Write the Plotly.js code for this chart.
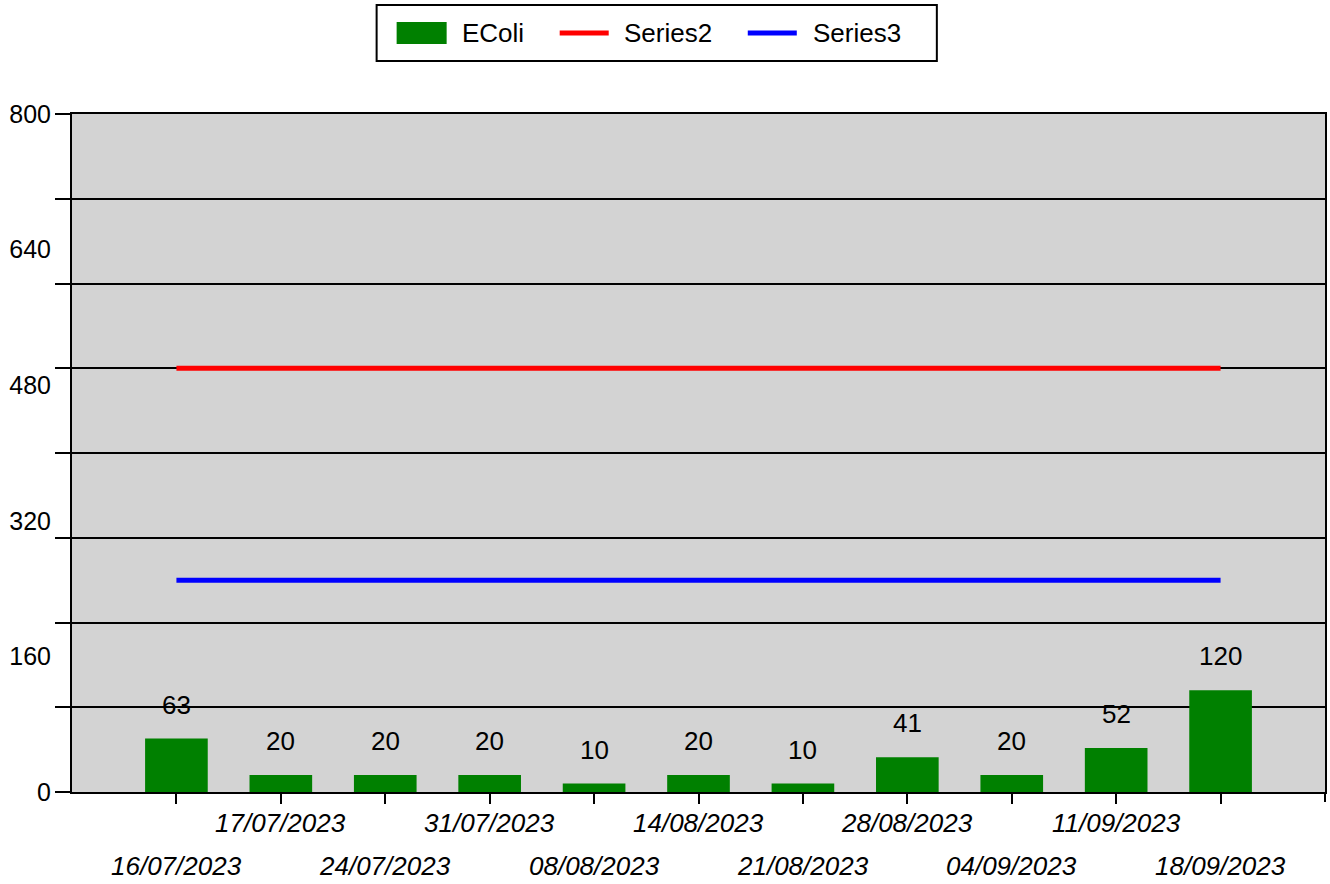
<!DOCTYPE html>
<html>
<head>
<meta charset="utf-8">
<script src="https://cdn.plot.ly/plotly-3.0.1.min.js"></script>
<style>html,body{margin:0;padding:0;background:#fff;}#chart{width:1330px;height:884px;}</style>
</head>
<body>
<div id="chart"></div>
<script>
const dates = ["16/07/2023","17/07/2023","24/07/2023","31/07/2023","08/08/2023","14/08/2023","21/08/2023","28/08/2023","04/09/2023","11/09/2023","18/09/2023"];
const ecoli = [63, 20, 20, 20, 10, 20, 10, 41, 20, 52, 120];
const series2 = [500, 500, 500, 500, 500, 500, 500, 500, 500, 500, 500];
const series3 = [250, 250, 250, 250, 250, 250, 250, 250, 250, 250, 250];
const seriesNames = ["EColi", "Series2", "Series3"];
const seriesColors = ["#008000", "#ff0000", "#0000ff"];
const gridVals = [0, 100, 200, 300, 400, 500, 600, 700, 800];
const yLabelVals = [0, 160, 320, 480, 640, 800];
const yLabelText = ["0", "160", "320", "480", "640", "800"];

const FONT = "Arial, 'Liberation Sans', sans-serif";

const traces = [
  {type: "bar", x: dates, y: ecoli, name: seriesNames[0], marker: {color: seriesColors[0]}, width: 0.6, showlegend: false},
  {type: "scatter", mode: "lines", x: dates, y: series2, name: seriesNames[1], line: {color: seriesColors[1], width: 5}, showlegend: false},
  {type: "scatter", mode: "lines", x: dates, y: series3, name: seriesNames[2], line: {color: seriesColors[2], width: 5}, showlegend: false},
  // invisible trace carrying the labelled y axis
  {type: "scatter", mode: "none", x: [dates[0]], y: [0], yaxis: "y2", showlegend: false, hoverinfo: "skip"}
];

// layout helpers: pixel -> paper
const L = 72.5, R = 1325, T = 114, B = 792;
const px = v => (v - L) / (R - L);
const py = v => (B - v) / (B - T);

const annotations = [];
// value labels above bars
dates.forEach((d, i) => {
  annotations.push({x: d, y: ecoli[i], xref: "x", yref: "y", text: String(ecoli[i]), showarrow: false,
    yanchor: "middle", yshift: 34, font: {family: FONT, size: 26, color: "#000"}});
});
// staggered date labels
dates.forEach((d, i) => {
  annotations.push({x: d, y: i % 2 === 0 ? py(866) : py(823), xref: "x", yref: "paper", text: d, showarrow: false,
    yanchor: "middle", xanchor: "center", font: {family: FONT, size: 26, color: "#000", style: "italic"}});
});

// custom legend
const shapes = [
  {type: "rect", xref: "paper", yref: "paper", x0: px(377), x1: px(937), y0: py(61), y1: py(5), line: {color: "#000", width: 2}, fillcolor: "#fff", layer: "above"},
  {type: "rect", xref: "paper", yref: "paper", x0: px(397), x1: px(447), y0: py(44), y1: py(22), line: {width: 0}, fillcolor: seriesColors[0], layer: "above"},
  {type: "line", xref: "paper", yref: "paper", x0: px(560), x1: px(609), y0: py(33), y1: py(33), line: {color: seriesColors[1], width: 5}, layer: "above"},
  {type: "line", xref: "paper", yref: "paper", x0: px(748), x1: px(797), y0: py(33), y1: py(33), line: {color: seriesColors[2], width: 5}, layer: "above"},
  {type: "line", xref: "paper", yref: "paper", x0: 1, x1: 1, y0: 0, y1: py(802), line: {color: "#000", width: 2}}
];
[[460, 0], [622, 1], [811, 2]].forEach(([x, k]) => {
  annotations.push({x: px(x), y: py(33), xref: "paper", yref: "paper", text: seriesNames[k], showarrow: false,
    xanchor: "left", yanchor: "middle", font: {family: FONT, size: 26, color: "#000"}});
});

const layout = {
  width: 1330, height: 884,
  margin: {l: 72, r: 5, t: 114, b: 92, pad: 0},
  paper_bgcolor: "#ffffff",
  plot_bgcolor: "#d3d3d3",
  font: {family: FONT, size: 26, color: "#000"},
  showlegend: false,
  xaxis: {
    type: "category", range: [-1, 11], showgrid: false, zeroline: false,
    showline: true, linecolor: "#000", linewidth: 2, mirror: true,
    ticks: "outside", ticklen: 10, tickwidth: 2, tickcolor: "#000",
    showticklabels: false
  },
  yaxis: {
    range: [0, 800], tickmode: "array", tickvals: gridVals, showticklabels: false,
    showgrid: true, gridcolor: "#000", gridwidth: 2, zeroline: false,
    showline: true, linecolor: "#000", linewidth: 2, mirror: true,
    ticks: "outside", ticklen: 15, tickwidth: 2, tickcolor: "#000"
  },
  yaxis2: {
    overlaying: "y", side: "left", range: [0, 800], tickmode: "array",
    tickvals: yLabelVals, ticktext: yLabelText,
    showgrid: false, zeroline: false, showline: false,
    ticks: "outside", ticklen: 15, tickcolor: "rgba(0,0,0,0)",
    tickfont: {family: FONT, size: 25, color: "#000"}
  },
  annotations: annotations,
  shapes: shapes
};

Plotly.newPlot("chart", traces, layout, {staticPlot: true, displayModeBar: false});
</script>
</body>
</html>
